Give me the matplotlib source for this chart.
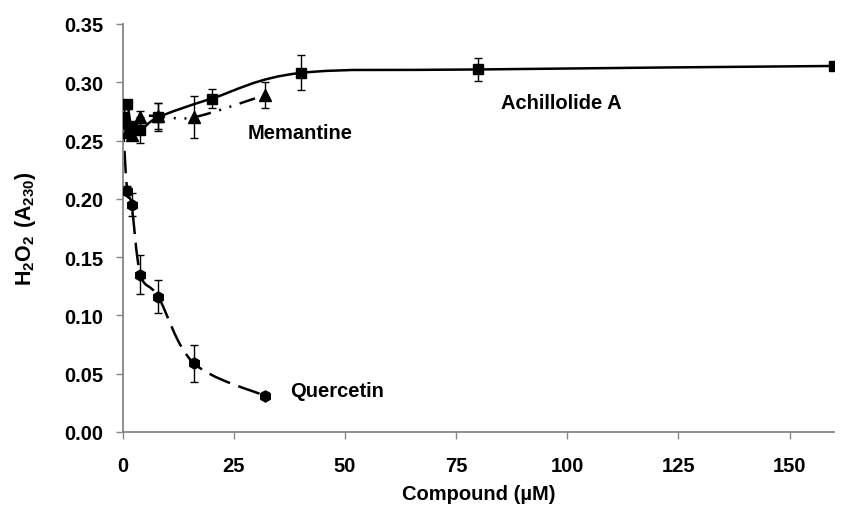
import numpy as np
import matplotlib
matplotlib.use("Agg")
import matplotlib.pyplot as plt
from matplotlib.path import Path
from matplotlib.patches import PathPatch

plt.rcParams['font.family'] = ['Liberation Sans', 'DejaVu Sans']
plt.rcParams['font.weight'] = 'bold'
plt.rcParams['mathtext.fontset'] = 'custom'
plt.rcParams['mathtext.rm'] = 'Liberation Sans:bold'
plt.rcParams['mathtext.bf'] = 'Liberation Sans:bold'

# ---- data ----
ach_x = [0, 1, 2, 4, 8, 20, 40, 80, 160]
ach_y = [0.270, 0.281, 0.262, 0.259, 0.270, 0.286, 0.308, 0.311, 0.314]
ach_e = [0.004, 0.004, 0.005, 0.011, 0.012, 0.008, 0.015, 0.010, 0.003]

mem_x = [0, 1, 2, 4, 8, 16, 32]
mem_y = [0.266, 0.257, 0.255, 0.270, 0.271, 0.270, 0.289]
mem_e = [0.003, 0.003, 0.003, 0.005, 0.011, 0.018, 0.011]

que_x = [0, 1, 2, 4, 8, 16, 32]
que_y = [0.268, 0.207, 0.195, 0.135, 0.116, 0.059, 0.031]
que_e = [0.004, 0.004, 0.010, 0.017, 0.014, 0.016, 0.003]

xticks = [0, 25, 50, 75, 100, 125, 150]
yticks = [0.00, 0.05, 0.10, 0.15, 0.20, 0.25, 0.30, 0.35]

labels = {"Achillolide A": (85.2, 0.283), "Memantine": (28.0, 0.257), "Quercetin": (37.6, 0.0354)}


def smooth_path(xs, ys):
    """Excel-style smoothed line: cubic Bezier segments (Catmull-Rom control points)."""
    P = np.column_stack([xs, ys]).astype(float)
    n = len(P)
    verts = [P[0]]
    codes = [Path.MOVETO]
    for i in range(n - 1):
        p0 = P[i - 1] if i > 0 else P[i]
        p1 = P[i]
        p2 = P[i + 1]
        p3 = P[i + 2] if i + 2 < n else P[i + 1]
        c1 = p1 + (p2 - p0) / 6.0
        c2 = p2 - (p3 - p1) / 6.0
        verts += [c1, c2, p2]
        codes += [Path.CURVE4] * 3
    return Path(verts, codes)


W, H = 844, 506
fig = plt.figure(figsize=(W / 100, H / 100), dpi=100)
ax = fig.add_axes([122.7 / W, 1 - 433 / H, (834 - 122.7) / W, (433 - 25) / H])

lw = 1.8
# lines
ax.add_patch(PathPatch(smooth_path(ach_x, ach_y), fill=False, lw=lw, color='black',
                       linestyle='-', zorder=2))
ax.add_patch(PathPatch(smooth_path(que_x, que_y), fill=False, lw=lw, color='black',
                       linestyle=(0, (9, 3.5)), capstyle='butt', zorder=2))
ax.add_patch(PathPatch(smooth_path(mem_x, mem_y), fill=False, lw=lw, color='black',
                       linestyle=(0, (6.5, 3.5, 0.8, 3.5, 0.8, 3.5)), capstyle='butt', zorder=2))

# markers + error bars
ekw = dict(ecolor='black', elinewidth=1.0, capsize=3.0, capthick=1.0, linestyle='none',
           markerfacecolor='black', markeredgecolor='black', zorder=3)
ax.errorbar(que_x, que_y, yerr=que_e, fmt='h', markersize=8, **ekw)
ax.errorbar(mem_x, mem_y, yerr=mem_e, fmt='^', markersize=8, **ekw)
ax.errorbar(ach_x, ach_y, yerr=ach_e, fmt='s', markersize=7, **ekw)

for txt, (x, y) in labels.items():
    ax.text(x, y, txt, fontsize=14.5, fontweight='bold', ha='left', va='center')

ax.set_xlim(0, 160)
ax.set_ylim(0, 0.35)
ax.set_xticks(xticks)
ax.set_xticklabels([str(t) for t in xticks])
ax.set_yticks(yticks)
ax.set_yticklabels([f"{t:.2f}" for t in yticks])

for s in ['top', 'right']:
    ax.spines[s].set_visible(False)
for s in ['left', 'bottom']:
    ax.spines[s].set_color('#868686')
    ax.spines[s].set_linewidth(1.3)
ax.tick_params(axis='both', colors='#868686', labelcolor='black', labelsize=14.5,
               width=1.0, length=5)
ax.tick_params(axis='y', pad=9)
ax.tick_params(axis='x', pad=12)
for lab in ax.get_xticklabels() + ax.get_yticklabels():
    lab.set_fontweight('bold')

ax.set_xlabel("Compound (µM)", fontsize=14.5, fontweight='bold')
ax.xaxis.set_label_coords(0.5, -0.15)
ax.xaxis.label.set_va('center')
ax.set_ylabel(r"$\mathregular{H_2O_2\ (A_{230})}$", fontsize=15.5, fontweight='bold')
ax.yaxis.set_label_coords(-0.137, 0.5)
ax.yaxis.label.set_va('center')

fig.savefig("out.png", dpi=100)
